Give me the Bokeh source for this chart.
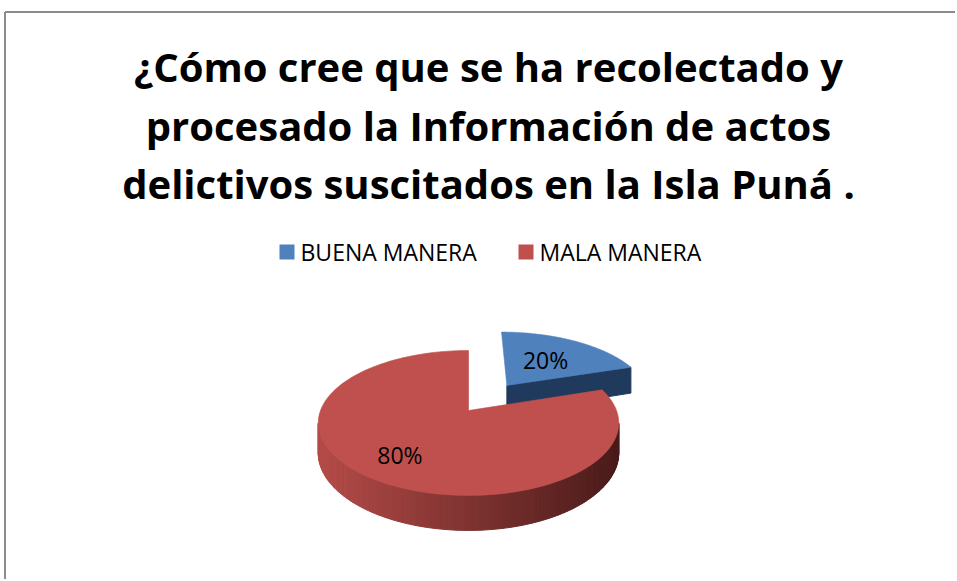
import math
from bokeh.plotting import figure
from bokeh.models import Range1d
from bokeh.core.properties import value
from bokeh.embed import file_html
from bokeh.resources import INLINE

# ---- data ----
title_lines = ["¿Cómo cree que se ha recolectado y",
               "procesado la Información de actos",
               "delictivos suscitados en la Isla Puná ."]
categories = ["BUENA MANERA", "MALA MANERA"]
values = [20, 80]
top_colors = ["#4F81BD", "#C0504D"]
explode = [0.47, 0.0]

W, H_ = 955, 579
p = figure(width=W, height=H_, x_range=Range1d(0, W), y_range=Range1d(H_, 0),
           output_backend="svg", toolbar_location=None, min_border=0)
p.axis.visible = False
p.grid.visible = False
p.outline_line_color = None
p.background_fill_color = "white"

# chart border (top/left visible)
p.line([4.5, W], [11.5, 11.5], line_color="#8c8c8c", line_width=2)
p.line([4.5, 4.5], [11.5, H_], line_color="#8c8c8c", line_width=2)

# title
title_font = value("Open Sans")
for i, t in enumerate(title_lines):
    p.text(x=[488], y=[66 + i * 58.5], text=[t], text_font=title_font,
           text_font_size="40px", text_font_style="bold", text_align="center",
           text_baseline="middle", text_color="black")

# legend
leg_font = value("Open Sans")
leg_x = [279, 518]
for i, c in enumerate(categories):
    p.quad(left=[leg_x[i]], right=[leg_x[i] + 15], top=[244], bottom=[259],
           fill_color=top_colors[i], line_color=None)
    p.text(x=[leg_x[i] + 21], y=[251.5], text=[c], text_font=leg_font,
           text_font_size="23px", text_align="left", text_baseline="middle",
           text_color="black")

# ---- 3D pie projection ----
cx, cy = 468.0, 410.0
A, B, K, DEPTH = 148.0, 70.3, 0.172, 29.0

def proj(u, v, d=0.0):
    s = 1.0 / (1.0 + K * v)
    return cx + A * u * s, cy - B * v * s + d * s

def hex2rgb(h):
    return tuple(int(h[i:i + 2], 16) for i in (1, 3, 5))

def mix(c1, c2, t):
    a, b = hex2rgb(c1), hex2rgb(c2)
    return "#%02x%02x%02x" % tuple(int(round(a[i] + (b[i] - a[i]) * t)) for i in range(3))

total = float(sum(values))
angles = []
start = 90.0
for v in values:
    sweep = 360.0 * v / total
    angles.append((start, start - sweep))
    start -= sweep

side_light = ["#2A4A73", "#B44B48"]
side_dark = ["#1F3A5C", "#4A1B1A"]

label_r = [0.54, 0.71]
n_arc = 160
layers = []
for i, (a0, a1) in enumerate(angles):
    mid = math.radians((a0 + a1) / 2)
    ou, ov = explode[i] * math.cos(mid), explode[i] * math.sin(mid)
    xs, ys = [], []
    x, y = proj(ou, ov); xs.append(x); ys.append(y)
    for j in range(n_arc + 1):
        th = math.radians(a0 + (a1 - a0) * j / n_arc)
        x, y = proj(ou + math.cos(th), ov + math.sin(th))
        xs.append(x); ys.append(y)
    top = (xs, ys)
    sides = []
    th = math.radians(a1)
    if math.sin(th - math.pi / 2) < 0:
        ex, ey = ou + math.cos(th), ov + math.sin(th)
        p1 = proj(ou, ov); p2 = proj(ex, ey)
        p3 = proj(ex, ey, DEPTH); p4 = proj(ou, ov, DEPTH)
        sides.append(([p1[0], p2[0], p3[0], p4[0]], [p1[1], p2[1], p3[1], p4[1]], side_dark[i]))
    lo = 180 + math.degrees(math.asin(K))
    hi = 360 - math.degrees(math.asin(K))
    rng_lo, rng_hi = min(a0, a1), max(a0, a1)
    wall = []
    for sh in (-360, 0, 360):
        l = max(lo + sh, rng_lo); h = max(min(hi + sh, rng_hi), l)
        if h > l:
            wall.append((l, h))
    strips = []
    for (l, h) in wall:
        n = max(2, int((h - l) / 1.0))
        for j in range(n):
            t0 = math.radians(l + (h - l) * j / n)
            t1 = math.radians(l + (h - l) * (j + 1) / n)
            q1 = proj(ou + math.cos(t0), ov + math.sin(t0))
            q2 = proj(ou + math.cos(t1), ov + math.sin(t1))
            q3 = proj(ou + math.cos(t1), ov + math.sin(t1), DEPTH)
            q4 = proj(ou + math.cos(t0), ov + math.sin(t0), DEPTH)
            xm = (q1[0] + q2[0]) / 2
            tt = min(1, max(0, (xm - (cx - A)) / (2 * A)))
            strips.append(([q1[0], q2[0], q3[0], q4[0]], [q1[1], q2[1], q3[1], q4[1]],
                           mix(side_light[i], side_dark[i], tt)))
    lx, ly = proj(ou + label_r[i] * math.cos(mid), ov + label_r[i] * math.sin(mid))
    layers.append((sides + strips, top, (lx, ly), "%d%%" % round(100 * values[i] / total), top_colors[i]))

for sides, top, (lx, ly), lab, col in layers:
    if sides:
        p.patches(xs=[s[0] for s in sides], ys=[s[1] for s in sides],
                  fill_color=[s[2] for s in sides], line_color=[s[2] for s in sides], line_width=1)
    p.patch(top[0], top[1], fill_color=col, line_color=col, line_width=0.6)
    p.text(x=[lx], y=[ly], text=[lab], text_font=leg_font, text_font_size="23px",
           text_align="center", text_baseline="middle", text_color="black")

open("out.html", "w").write(file_html(p, INLINE))
